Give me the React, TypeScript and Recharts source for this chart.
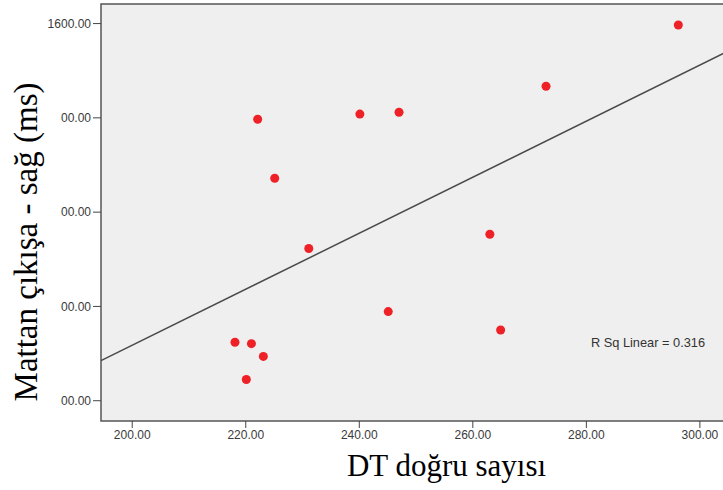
import {
  ReferenceArea,
  ReferenceLine,
  Scatter,
  ScatterChart,
  XAxis,
  YAxis,
} from 'recharts';

// DT doğru sayısı vs Mattan çıkışa - sağ (ms)
const dtValues = [296.2, 272.9, 222.1, 240.1, 247.0, 225.1, 231.1, 245.1, 218.1, 221.0, 223.1, 220.1, 263.0, 264.9];
const msValues = [1597, 1467, 1397, 1408, 1412, 1272, 1123, 989, 924, 921, 894, 845, 1153, 950];

const xTicks = [200, 220, 240, 260, 280, 300];
const yTicks = [800, 1000, 1200, 1400, 1600];
// the left part of most y labels is hidden behind the axis title in the original
const yTickLabels = ['00.00', '00.00', '00.00', '00.00', '1600.00'];
const rSqLabel = 'R Sq Linear = 0.316';

const xDomain: [number, number] = [194.5, 304.6];
const yDomain: [number, number] = [757, 1641.5];

const points = dtValues.map((x, i) => ({ x, y: msValues[i] }));

// least squares fit line
const n = points.length;
const mx = dtValues.reduce((a, b) => a + b, 0) / n;
const my = msValues.reduce((a, b) => a + b, 0) / n;
let sxy = 0;
let sxx = 0;
points.forEach((p) => {
  sxy += (p.x - mx) * (p.y - my);
  sxx += (p.x - mx) ** 2;
});
const slope = sxy / sxx;
const fit = (x: number) => my + slope * (x - mx);

const tickFont = { fontSize: 12, fill: '#3a3a3a', fontFamily: 'Liberation Sans, Arial, sans-serif' };
const serif = 'Liberation Serif, Times New Roman, serif';

function Dot(props: any) {
  return <circle cx={props.cx} cy={props.cy} r={4.5} fill="#ee2127" />;
}

export default function App() {
  return (
    <div style={{ position: 'absolute', left: 0, top: 0, width: 723, height: 490, overflow: 'hidden', background: '#fff' }}>
      <ScatterChart width={726} height={490} margin={{ top: 4, right: 0, bottom: 0, left: 0 }}>
        <ReferenceArea
          x1={xDomain[0]}
          x2={xDomain[1]}
          y1={yDomain[0]}
          y2={yDomain[1]}
          fill="#efefef"
          fillOpacity={1}
          stroke="#555"
          strokeWidth={1.5}
        />
        <XAxis
          type="number"
          dataKey="x"
          domain={xDomain}
          ticks={xTicks}
          allowDataOverflow
          height={69}
          axisLine={false}
          tickSize={7}
          tickMargin={2}
          tickLine={{ stroke: '#444' }}
          tick={tickFont}
          tickFormatter={(v: number) => v.toFixed(2)}
        />
        <YAxis
          type="number"
          dataKey="y"
          domain={yDomain}
          ticks={yTicks}
          allowDataOverflow
          width={101}
          axisLine={false}
          tickSize={8}
          tickMargin={2}
          tickLine={{ stroke: '#444' }}
          tick={tickFont}
          tickFormatter={(v: number) => yTickLabels[yTicks.indexOf(v)]}
        />
        <ReferenceLine
          segment={[
            { x: xDomain[0], y: fit(xDomain[0]) },
            { x: xDomain[1], y: fit(xDomain[1]) },
          ]}
          stroke="#4a4a4a"
          strokeWidth={1.5}
        />
        <Scatter data={points} shape={<Dot />} isAnimationActive={false} />
      </ScatterChart>
      <svg width={723} height={490} style={{ position: 'absolute', left: 0, top: 0, pointerEvents: 'none' }}>
        <text x={648} y={347} textAnchor="middle" fontSize={12.8} fill="#333" fontFamily="Liberation Sans, Arial, sans-serif">
          {rSqLabel}
        </text>
        <text x={446.5} y={476} textAnchor="middle" fontSize={31} fill="#000" fontFamily={serif}>
          DT doğru sayısı
        </text>
        <text
          x={37}
          y={242}
          textAnchor="middle"
          fontSize={33}
          fill="#000"
          fontFamily={serif}
          transform="rotate(-90 37 242)"
        >
          Mattan çıkışa - sağ (ms)
        </text>
      </svg>
    </div>
  );
}
